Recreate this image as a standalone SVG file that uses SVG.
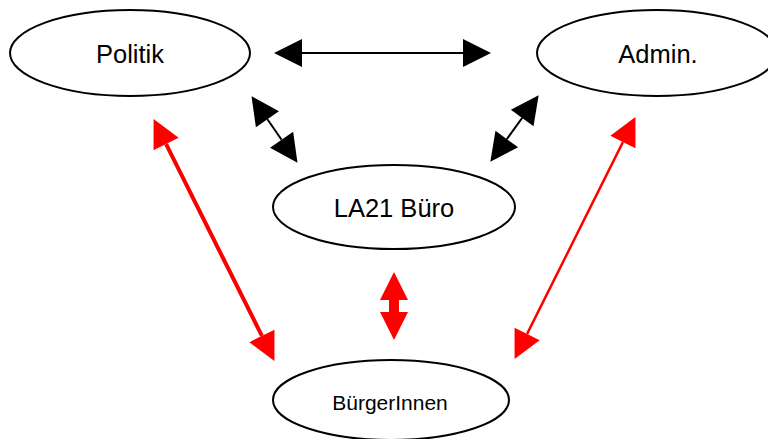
<svg xmlns="http://www.w3.org/2000/svg" width="768" height="439" viewBox="0 0 768 439">
<style>
.node ellipse{fill:#fff;stroke:#000;stroke-width:2}
.node text{font-family:"Liberation Sans",Arial,sans-serif;text-anchor:middle;fill:#000}
.big{font-size:25.5px}
.small{font-size:21px}
.blk{stroke:#000;stroke-width:2;fill:none;marker-start:url(#hb);marker-end:url(#hb)}
.red{stroke:#f00;fill:none;marker-start:url(#hr);marker-end:url(#hr)}
</style>
<defs>
<marker id="hb" markerUnits="userSpaceOnUse" markerWidth="28" markerHeight="28" refX="0" refY="13.5" orient="auto-start-reverse" viewBox="0 0 27 27" overflow="visible"><path d="M0,0 L27,13.5 L0,27 z" fill="#000"/></marker>
<marker id="hr" markerUnits="userSpaceOnUse" markerWidth="28" markerHeight="28" refX="0" refY="13.5" orient="auto-start-reverse" viewBox="0 0 27 27" overflow="visible"><path d="M0,0 L27,13.5 L0,27 z" fill="#f00"/></marker>
</defs>
<rect width="768" height="439" fill="#fff"/>
<g id="connectors">
<path class="blk" d="M302,53 L463,53"/>
<path class="blk" d="M267.4,119.2 L281.6,139.8"/>
<path class="blk" d="M522.2,117.9 L506.8,139.1"/>
<path class="red" style="stroke-width:4" d="M166.1,144.1 L261.9,335.9"/>
<path class="red" style="stroke-width:2.5" d="M622.9,142.1 L527.1,333.9"/>
<path class="red" style="stroke-width:10" d="M394,300 L394,312"/>
</g>
<g id="politik" class="node"><ellipse cx="130" cy="53" rx="120" ry="43"/><text class="big" x="130" y="63">Politik</text></g>
<g id="admin" class="node"><ellipse cx="657" cy="53" rx="120" ry="43"/><text class="big" x="658" y="63">Admin.</text></g>
<g id="la21" class="node"><ellipse cx="394" cy="207" rx="121" ry="42"/><text class="big" x="394" y="217">LA21 Büro</text></g>
<g id="buerger" class="node"><ellipse cx="391" cy="400" rx="118" ry="40"/><text class="small" x="390" y="410">BürgerInnen</text></g>
</svg>
